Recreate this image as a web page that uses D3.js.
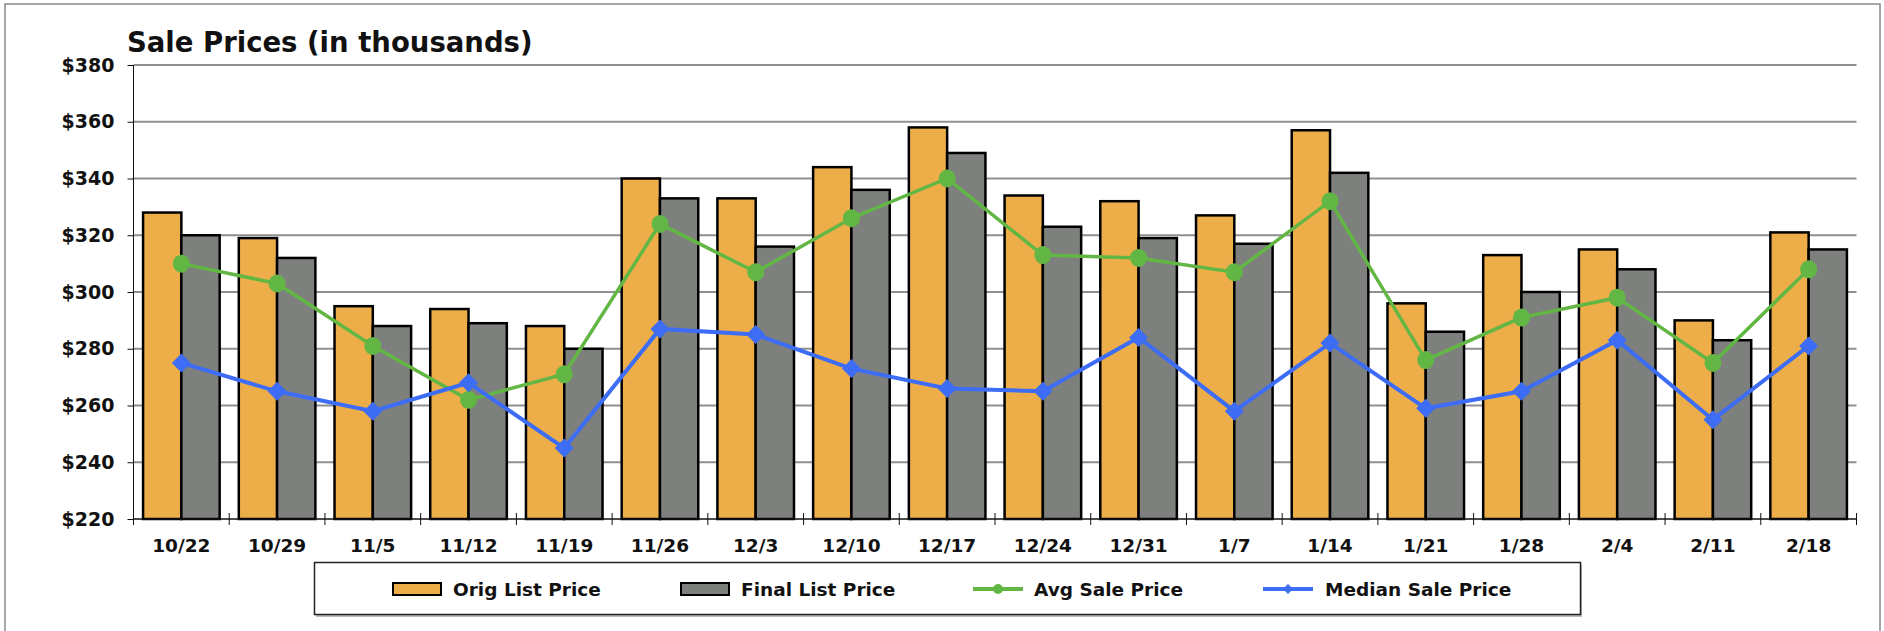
<!DOCTYPE html>
<html lang="en">
  <head>
    <meta charset="utf-8">
    <title>Sale Prices</title>
    <style>
      body { margin: 0; background: #fff; }
      text { font-family: "DejaVu Sans", sans-serif; font-weight: bold; }
    </style>
  </head>
  <body>
    <div id="chart"></div>
    <script src="https://d3js.org/d3.v7.min.js"></script>
    <script>

    // chart data
    var weeks = ["10/22", "10/29", "11/5", "11/12", "11/19", "11/26", "12/3", "12/10", "12/17",
                 "12/24", "12/31", "1/7", "1/14", "1/21", "1/28", "2/4", "2/11", "2/18"];
    var origList   = [328, 319, 295, 294, 288, 340, 333, 344, 358, 334, 332, 327, 357, 296, 313, 315, 290, 321];
    var finalList  = [320, 312, 288, 289, 280, 333, 316, 336, 349, 323, 319, 317, 342, 286, 300, 308, 283, 315];
    var avgSale    = [310, 303, 281, 262, 271, 324, 307, 326, 340, 313, 312, 307, 332, 276, 291, 298, 275, 308];
    var medianSale = [275, 265, 258, 268, 245, 287, 285, 273, 266, 265, 284, 258, 282, 259, 265, 283, 255, 281];
    var yTicks = [220, 240, 260, 280, 300, 320, 340, 360, 380];

    var W = 1884, H = 631;
    var margin = {top: 65, left: 133.5, right: 27.5, bottom: 112};
    var width = W - margin.left - margin.right,
        height = H - margin.top - margin.bottom;

    var colors = {orig: "#edae4a", final: "#7e807e", avg: "#62b744", median: "#3d6cf5"};

    var svg = d3.select("#chart").append("svg")
      .attr("width", W)
      .attr("height", H);

    // outer frame
    svg.append("rect")
      .attr("x", 5).attr("y", 4)
      .attr("width", 1875).attr("height", 640)
      .attr("fill", "none")
      .attr("stroke", "#8a8a8a")
      .attr("stroke-width", 1.5);

    // title
    svg.append("text")
      .attr("x", 127).attr("y", 52)
      .attr("font-size", "27.5px")
      .attr("fill", "#111")
      .text("Sale Prices (in thousands)");

    var g = svg.append("g")
      .attr("transform", "translate(" + margin.left + "," + margin.top + ")");

    // scales
    var x = d3.scaleBand()
      .domain(weeks)
      .range([0, width])
      .paddingInner(0.2)
      .paddingOuter(0.1);

    var xStep = d3.scaleBand().domain(weeks).range([0, width]);

    var y = d3.scaleLinear()
      .domain([220, 380])
      .range([height, 0]);

    // gridlines
    g.selectAll(".grid")
      .data(yTicks.slice(1))
      .enter()
      .append("line")
        .attr("x1", 0).attr("x2", width)
        .attr("y1", function(d){ return y(d) })
        .attr("y2", function(d){ return y(d) })
        .attr("stroke", "#8f8f8f")
        .attr("stroke-width", 2);

    // y axis
    var yAxis = g.append("g")
      .call(d3.axisLeft(y).tickValues(yTicks).tickSize(6).tickPadding(13)
        .tickFormat(function(d){ return "$" + d }));
    yAxis.selectAll("text").attr("font-size", "19px").attr("fill", "#111");
    yAxis.selectAll("line, path").attr("stroke", "#111");
    yAxis.select(".domain").attr("d", "M0," + height + "V0");

    // bars
    var barW = x.bandwidth() / 2;

    g.selectAll(".orig")
      .data(origList)
      .enter()
      .append("rect")
        .attr("x", function(d, i){ return x(weeks[i]) })
        .attr("y", function(d){ return y(d) })
        .attr("width", barW)
        .attr("height", function(d){ return height - y(d) })
        .attr("fill", colors.orig)
        .attr("stroke", "#000")
        .attr("stroke-width", 2.5);

    g.selectAll(".final")
      .data(finalList)
      .enter()
      .append("rect")
        .attr("x", function(d, i){ return x(weeks[i]) + barW })
        .attr("y", function(d){ return y(d) })
        .attr("width", barW)
        .attr("height", function(d){ return height - y(d) })
        .attr("fill", colors.final)
        .attr("stroke", "#000")
        .attr("stroke-width", 2.5);

    // x axis with ticks between categories
    var xa = g.append("g").attr("transform", "translate(0," + height + ")");
    xa.append("line")
      .attr("x1", 0).attr("x2", width)
      .attr("stroke", "#111").attr("stroke-width", 1.5);
    xa.selectAll(".tk")
      .data(weeks.concat(["end"]))
      .enter()
      .append("line")
        .attr("x1", function(d, i){ return i < weeks.length ? xStep(d) : width })
        .attr("x2", function(d, i){ return i < weeks.length ? xStep(d) : width })
        .attr("y1", -6).attr("y2", 6)
        .attr("stroke", "#111");
    xa.selectAll(".lbl")
      .data(weeks)
      .enter()
      .append("text")
        .attr("x", function(d){ return x(d) + x.bandwidth() / 2 })
        .attr("y", 33)
        .attr("text-anchor", "middle")
        .attr("font-size", "18.5px")
        .attr("fill", "#111")
        .text(function(d){ return d });

    // lines
    var cx = function(d, i){ return x(weeks[i]) + x.bandwidth() / 2 };
    var line = d3.line().x(cx).y(function(d){ return y(d) });

    g.append("path")
      .datum(avgSale)
      .attr("d", line)
      .attr("fill", "none")
      .attr("stroke", colors.avg)
      .attr("stroke-width", 3.5);

    g.selectAll(".avgpt")
      .data(avgSale)
      .enter()
      .append("ellipse")
        .attr("cx", cx)
        .attr("cy", function(d){ return y(d) })
        .attr("rx", 8.5).attr("ry", 9)
        .attr("fill", colors.avg);

    g.append("path")
      .datum(medianSale)
      .attr("d", line)
      .attr("fill", "none")
      .attr("stroke", colors.median)
      .attr("stroke-width", 4);

    g.selectAll(".medpt")
      .data(medianSale)
      .enter()
      .append("path")
        .attr("transform", function(d, i){ return "translate(" + cx(d, i) + "," + y(d) + ")" })
        .attr("d", "M0,-9.5L9.5,0L0,9.5L-9.5,0Z")
        .attr("fill", colors.median);

    // legend
    var lg = svg.append("g");
    lg.append("rect")
      .attr("x", 316).attr("y", 565)
      .attr("width", 1266).attr("height", 52)
      .attr("fill", "#bbb");
    lg.append("rect")
      .attr("x", 314.5).attr("y", 562.5)
      .attr("width", 1266).attr("height", 52)
      .attr("fill", "#fff")
      .attr("stroke", "#222")
      .attr("stroke-width", 1.5);

    var items = [
      {name: "Orig List Price", type: "bar", color: colors.orig, x: 393, tx: 453},
      {name: "Final List Price", type: "bar", color: colors.final, x: 681, tx: 741},
      {name: "Avg Sale Price", type: "avg", color: colors.avg, x: 973, tx: 1034},
      {name: "Median Sale Price", type: "median", color: colors.median, x: 1263, tx: 1325}
    ];
    var ly = 589;
    items.forEach(function(it){
      if (it.type == "bar") {
        lg.append("rect")
          .attr("x", it.x).attr("y", ly - 6)
          .attr("width", 48).attr("height", 12)
          .attr("fill", it.color)
          .attr("stroke", "#000")
          .attr("stroke-width", 2);
      } else {
        lg.append("line")
          .attr("x1", it.x).attr("x2", it.x + 50)
          .attr("y1", ly).attr("y2", ly)
          .attr("stroke", it.color)
          .attr("stroke-width", 4);
        if (it.type == "avg") {
          lg.append("circle").attr("cx", it.x + 25).attr("cy", ly).attr("r", 5).attr("fill", it.color);
        } else {
          lg.append("path")
            .attr("transform", "translate(" + (it.x + 25) + "," + ly + ")")
            .attr("d", "M0,-5L5,0L0,5L-5,0Z")
            .attr("fill", it.color);
        }
      }
      lg.append("text")
        .attr("x", it.tx).attr("y", ly)
        .attr("dy", "0.36em")
        .attr("font-size", "18.5px")
        .attr("fill", "#111")
        .text(it.name);
    });
    </script>
  </body>
</html>
